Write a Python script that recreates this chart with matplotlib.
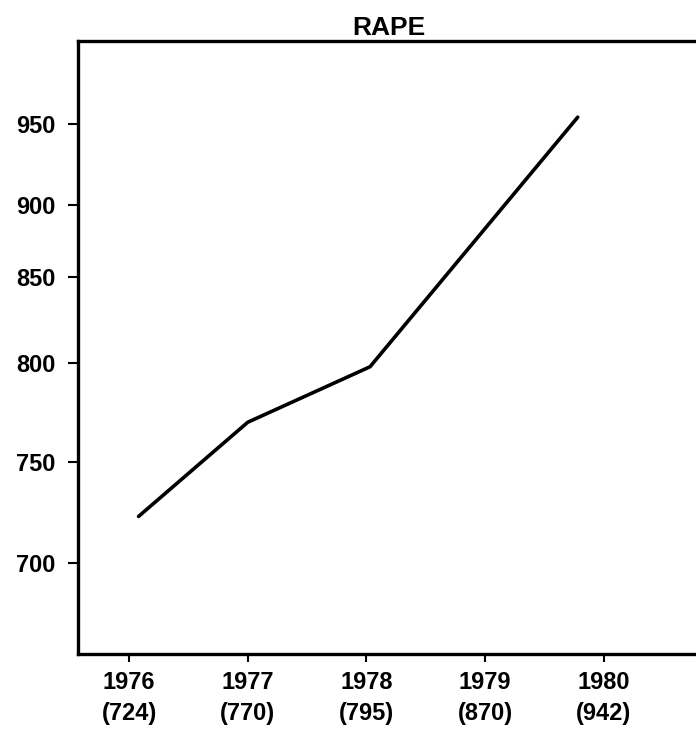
import numpy as np
import matplotlib
matplotlib.use("Agg")
from matplotlib import pyplot as plt

# values printed under the years
years = [1976, 1977, 1978, 1979, 1980]
counts = [724, 770, 795, 870, 942]

# line as drawn in the original
line_x = [1976.08, 1977.0, 1978.03, 1979.78]
line_y = [723, 770, 798, 954]

y_ticks = [700, 750, 800, 850, 900, 950]

# the original y axis is hand-ruled, tick gaps are not even
scale_v = [600, 700, 750, 800, 850, 900, 950, 1050]
scale_p = [-30, 170, 271, 370, 456, 528, 609, 771]


def fwd(v):
    return np.interp(v, scale_v, scale_p)


def inv(p):
    return np.interp(p, scale_p, scale_v)


plt.rcParams['font.family'] = ['Liberation Sans', 'DejaVu Sans']
plt.rcParams['font.weight'] = 'bold'

fig = plt.figure(figsize=(6.96, 7.33), dpi=100)
ax = fig.add_axes([78 / 696, 1 - 654 / 733, 622 / 696, (654 - 41) / 733])

ax.plot(line_x, line_y, color='black', linewidth=2.6, solid_capstyle='round')

ax.set_yscale('function', functions=(fwd, inv))
ax.set_ylim(654.5, 1001)
ax.set_xlim(1975.57, 1980.81)

ax.set_yticks(y_ticks)
ax.set_yticklabels([str(v) for v in y_ticks], fontsize=17, fontweight='bold')
ax.minorticks_off()

ax.set_xticks(years)
ax.set_xticklabels(["%d\n(%d)" % (y, c) for y, c in zip(years, counts)],
                   fontsize=17, fontweight='bold', linespacing=1.45)

ax.tick_params(axis='y', direction='out', length=7, width=1.5, pad=9)
ax.tick_params(axis='x', direction='out', length=6, width=1.5, pad=6)

for side in ['left', 'bottom', 'top']:
    ax.spines[side].set_linewidth(2.4)
ax.spines['right'].set_visible(False)

ax.set_title("RAPE", fontsize=19, fontweight='bold', pad=4)

fig.savefig("out.png", dpi=100)
